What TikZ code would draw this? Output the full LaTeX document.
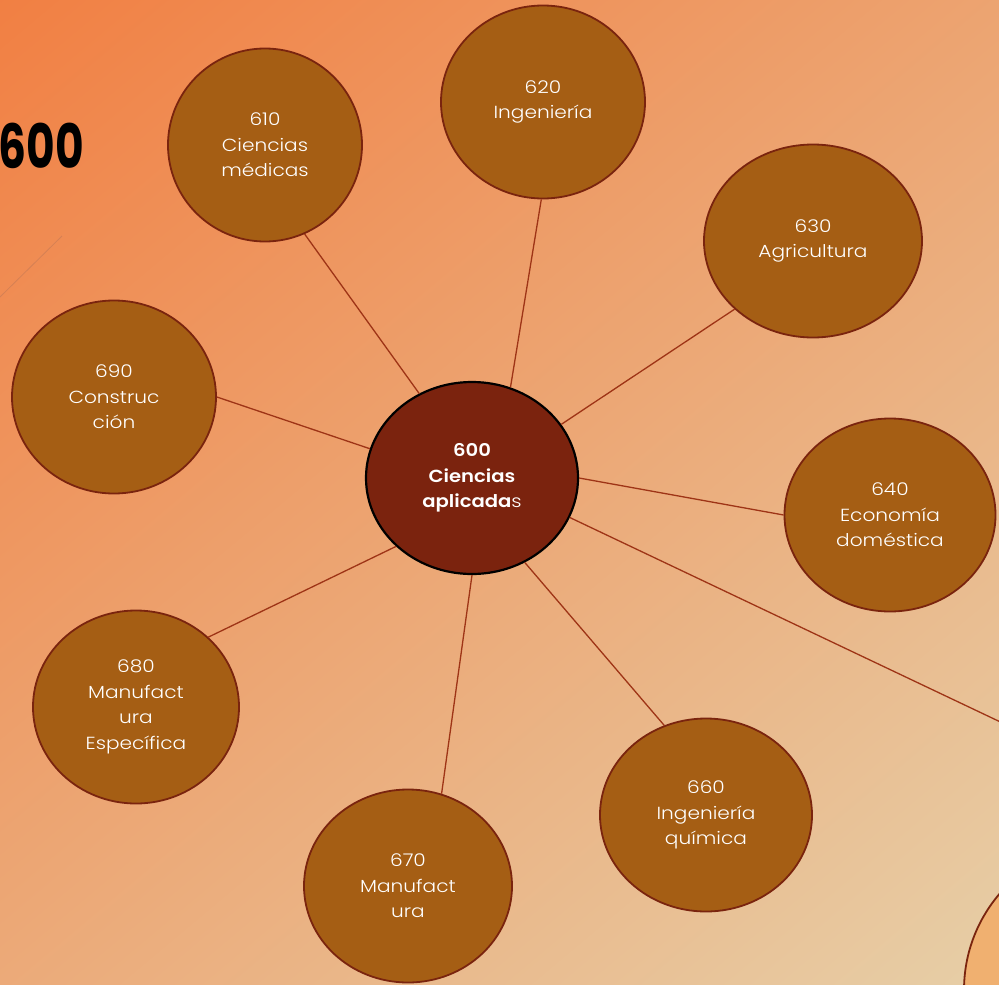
\documentclass[tikz,border=0pt]{standalone}
\usepackage{graphicx}
\usepackage{fontspec}
\setmainfont{Poppins Light}[FakeStretch=1.15, BoldFont=Poppins SemiBold, BoldFeatures={FakeStretch=1.12}]
\newfontfamily\titlefont{Poppins}
\usetikzlibrary{shapes.geometric}
\definecolor{bgA}{RGB}{242,122,60}
\definecolor{bgM}{RGB}{238,166,122}
\definecolor{bgB}{RGB}{230,212,174}
\definecolor{leaffill}{RGB}{165,94,20}
\definecolor{leafedge}{RGB}{122,36,14}
\definecolor{hubfill}{RGB}{123,35,14}
\definecolor{linkcol}{RGB}{158,52,22}
\definecolor{circfill}{RGB}{240,176,112}
\definecolor{faint}{RGB}{214,128,84}
\begin{document}
\begin{tikzpicture}[x=1pt,y=-1pt,
  leaf/.style={ellipse, draw=leafedge, line width=1.8pt, fill=leaffill, text=white,
    font=\fontsize{17.5}{25.5}\selectfont, align=center, inner sep=0pt, minimum height=193pt},
  hub/.style={ellipse, draw=black, line width=2.2pt, fill=hubfill, text=white,
    font=\fontsize{17.5}{25.5}\selectfont, align=center, inner sep=0pt, minimum width=212pt, minimum height=192pt},
  link/.style={draw=linkcol, line width=1.3pt}]
\useasboundingbox (0,0) rectangle (999,985);
\clip (0,0) rectangle (999,985);
\shade[top color=bgA, middle color=bgM, bottom color=bgB, shading angle=40] (-300,-300) rectangle (1300,1285);
\draw[faint, line width=0.8pt] (0,297) -- (62,236);
\node[anchor=east, inner sep=0pt, font=\titlefont\fontsize{61}{61}\bfseries\selectfont, text=black] (title) at (84,146) {\scalebox{0.72}[1]{600}};
\node[hub] (c) at (472,478) {\textbf{600}\\\textbf{Ciencias}\\\textbf{aplicada}s};
\node[leaf, minimum width=194pt] (n610) at (265,145) {610\\Ciencias\\médicas};
\node[leaf, minimum width=204pt] (n620) at (543,102) {620\\Ingeniería};
\node[leaf, minimum width=218pt] (n630) at (813,241) {630\\Agricultura};
\node[leaf, minimum width=211pt] (n640) at (890,515) {640\\Economía\\doméstica};
\node[leaf, minimum width=212pt] (n660) at (706,815) {660\\Ingeniería\\química};
\node[leaf, minimum width=208pt] (n670) at (408,886) {670\\Manufact\\ura};
\node[leaf, minimum width=206pt] (n680) at (136,707) {680\\Manufact\\ura\\Específica};
\node[leaf, minimum width=204pt] (n690) at (114,397) {690\\Construc\\ción};
\node[circle, draw=leafedge, line width=1.8pt, fill=circfill, minimum size=296pt] (n650) at (1112,990) {};
\coordinate (e650) at (1110,774);
\draw[link] (c.122) -- (n610.-66);
\draw[link] (c.67) -- (n620.-91);
\draw[link] (c.31) -- (n630.221);
\draw[link] (c.-0.5) -- (n640.180);
\draw[link] (c.-22) -- (e650);
\draw[link] (c.-58) -- (n660.115);
\draw[link] (c.-90.6) -- (n670.70);
\draw[link] (c.222) -- (n680.44);
\draw[link] (c.164) -- (n690.0);
\end{tikzpicture}
\end{document}
